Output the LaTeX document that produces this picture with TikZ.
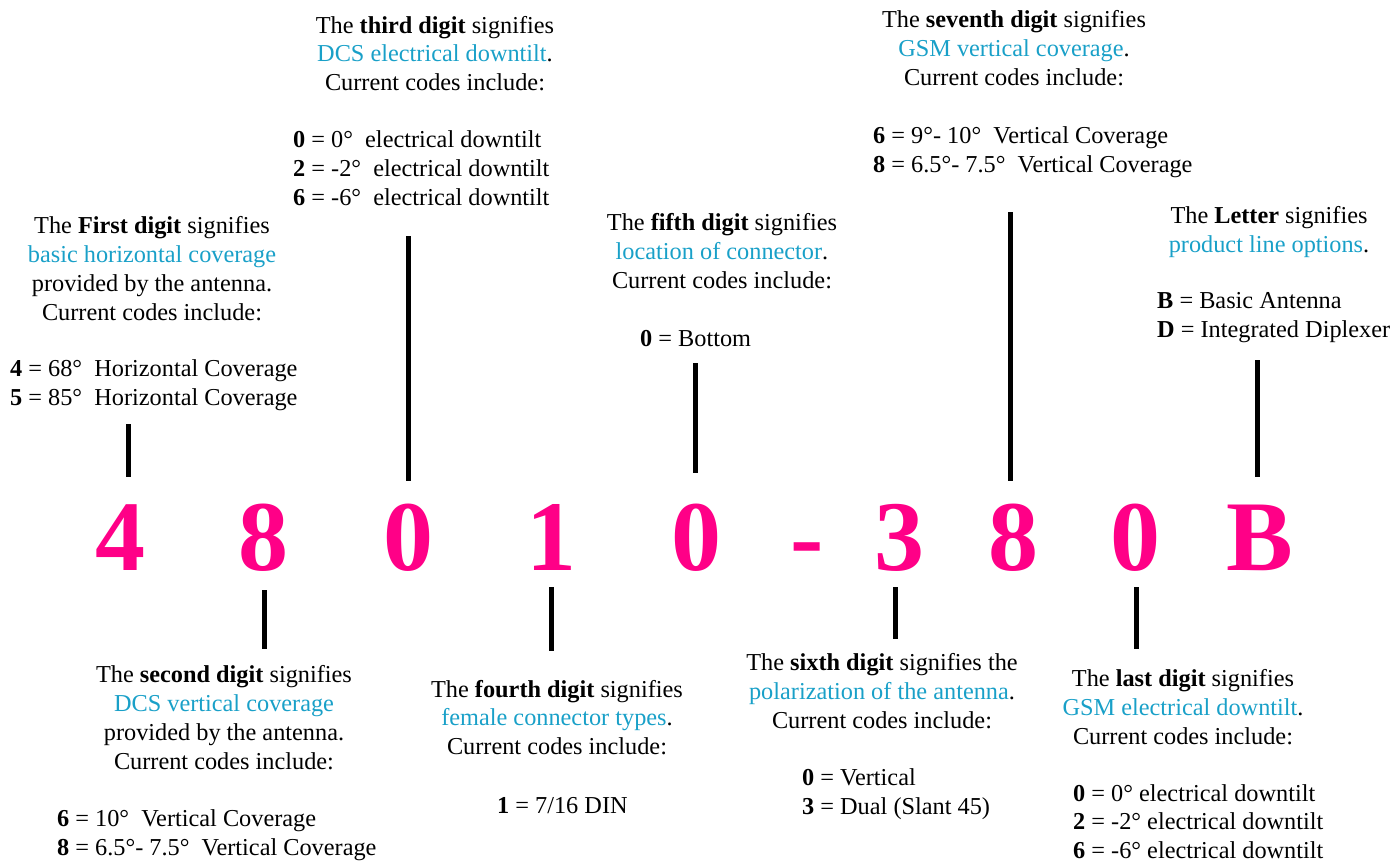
\documentclass[tikz,border=0pt]{standalone}
\usepackage{fontspec}
\setmainfont{Liberation Serif}
\usetikzlibrary{positioning}
\definecolor{codepink}{RGB}{255,0,135}
\definecolor{textcyan}{RGB}{25,160,200}
\newcommand{\hl}[1]{\textcolor{textcyan}{#1}}

\begin{document}
\begin{tikzpicture}[x=1pt,y=-1pt,
  digit/.style={font=\fontsize{100}{100}\selectfont\bfseries, text=codepink, anchor=base, inner sep=0pt},
  info/.style={font=\fontsize{24.3}{28.7}\selectfont, align=center, anchor=base, inner sep=0pt},
  codes/.style={font=\fontsize{24.3}{28.7}\selectfont, align=left, anchor=base west, inner sep=0pt},
  stem/.style={line width=5pt}]
\useasboundingbox (0,0) rectangle (1396,862);

% the code itself
\foreach \i/\x/\c in {1/120/4,2/263/8,3/408/0,4/551/1,5/696/0,6/807/-,7/899/3,8/1013/8,9/1135/0,10/1260/B}
  \node[digit] (d\i) at (\x,570) {\c};

% explanations above (positions are the baseline of the last line)
\node[info] (t1) at (152,320) {The \textbf{First digit} signifies\\ \hl{basic horizontal coverage}\\ provided by the antenna.\\ Current codes include:};
\node[codes] (c1) at (10,405) {\textbf{4} = 68°\ \ Horizontal Coverage\\ \textbf{5} = 85°\ \ Horizontal Coverage};

\node[info] (t3) at (435,90.5) {The \textbf{third digit} signifies\\ \hl{DCS electrical downtilt}.\\ Current codes include:};
\node[codes] (c3) at (293,205) {\textbf{0} = 0°\ \ electrical downtilt\\ \textbf{2} = -2°\ \ electrical downtilt\\ \textbf{6} = -6°\ \ electrical downtilt};

\node[info] (t5) at (722,288) {The \textbf{fifth digit} signifies\\ \hl{location of connector}.\\ Current codes include:};
\node[codes] (c5) at (640,346) {\textbf{0} = Bottom};

\node[info] (t7) at (1014,85) {The \textbf{seventh digit} signifies\\ \hl{GSM vertical coverage}.\\ Current codes include:};
\node[codes] (c7) at (873,172.5) {\textbf{6} = 9°- 10°\ \ Vertical Coverage\\ \textbf{8} = 6.5°- 7.5°\ \ Vertical Coverage};

\node[info] (t10) at (1269,252) {The \textbf{Letter} signifies\\ \hl{product line options}.};
\node[codes] (c10) at (1157,337.5) {\textbf{B} = Basic Antenna\\ \textbf{D} = Integrated Diplexer};

% explanations below
\node[info] (t2) at (224,769) {The \textbf{second digit} signifies\\ \hl{DCS vertical coverage}\\ provided by the antenna.\\ Current codes include:};
\node[codes] (c2) at (57,855.5) {\textbf{6} = 10°\ \ Vertical Coverage\\ \textbf{8} = 6.5°- 7.5°\ \ Vertical Coverage};

\node[info] (t4) at (557,754.5) {The \textbf{fourth digit} signifies\\ \hl{female connector types}.\\ Current codes include:};
\node[codes] (c4) at (497,813) {\textbf{1} = 7/16 DIN};

\node[info] (t6) at (882,728) {The \textbf{sixth digit} signifies the\\ \hl{polarization of the antenna}.\\ Current codes include:};
\node[codes] (c6) at (802,814.5) {\textbf{0} = Vertical\\ \textbf{3} = Dual (Slant 45)};

\node[info] (t9) at (1183,744) {The \textbf{last digit} signifies\\ \hl{GSM electrical downtilt}.\\ Current codes include:};
\node[codes] (c9) at (1073,858.5) {\textbf{0} = 0° electrical downtilt\\ \textbf{2} = -2° electrical downtilt\\ \textbf{6} = -6° electrical downtilt};

% stems
\foreach \i/\x/\ya/\yb in {1/128/424/477,3/408/236/481,5/695/363/473,8/1010/212/481,10/1257/360/477,
                           2/264/590/649,4/551/587/651,7/895/587/639,9/1136/587/649}{
  \coordinate (s\i) at (\x,\ya);
  \coordinate (e\i) at (\x,\yb);
  \draw[stem] (s\i) -- (e\i);
}
\end{tikzpicture}
\end{document}
